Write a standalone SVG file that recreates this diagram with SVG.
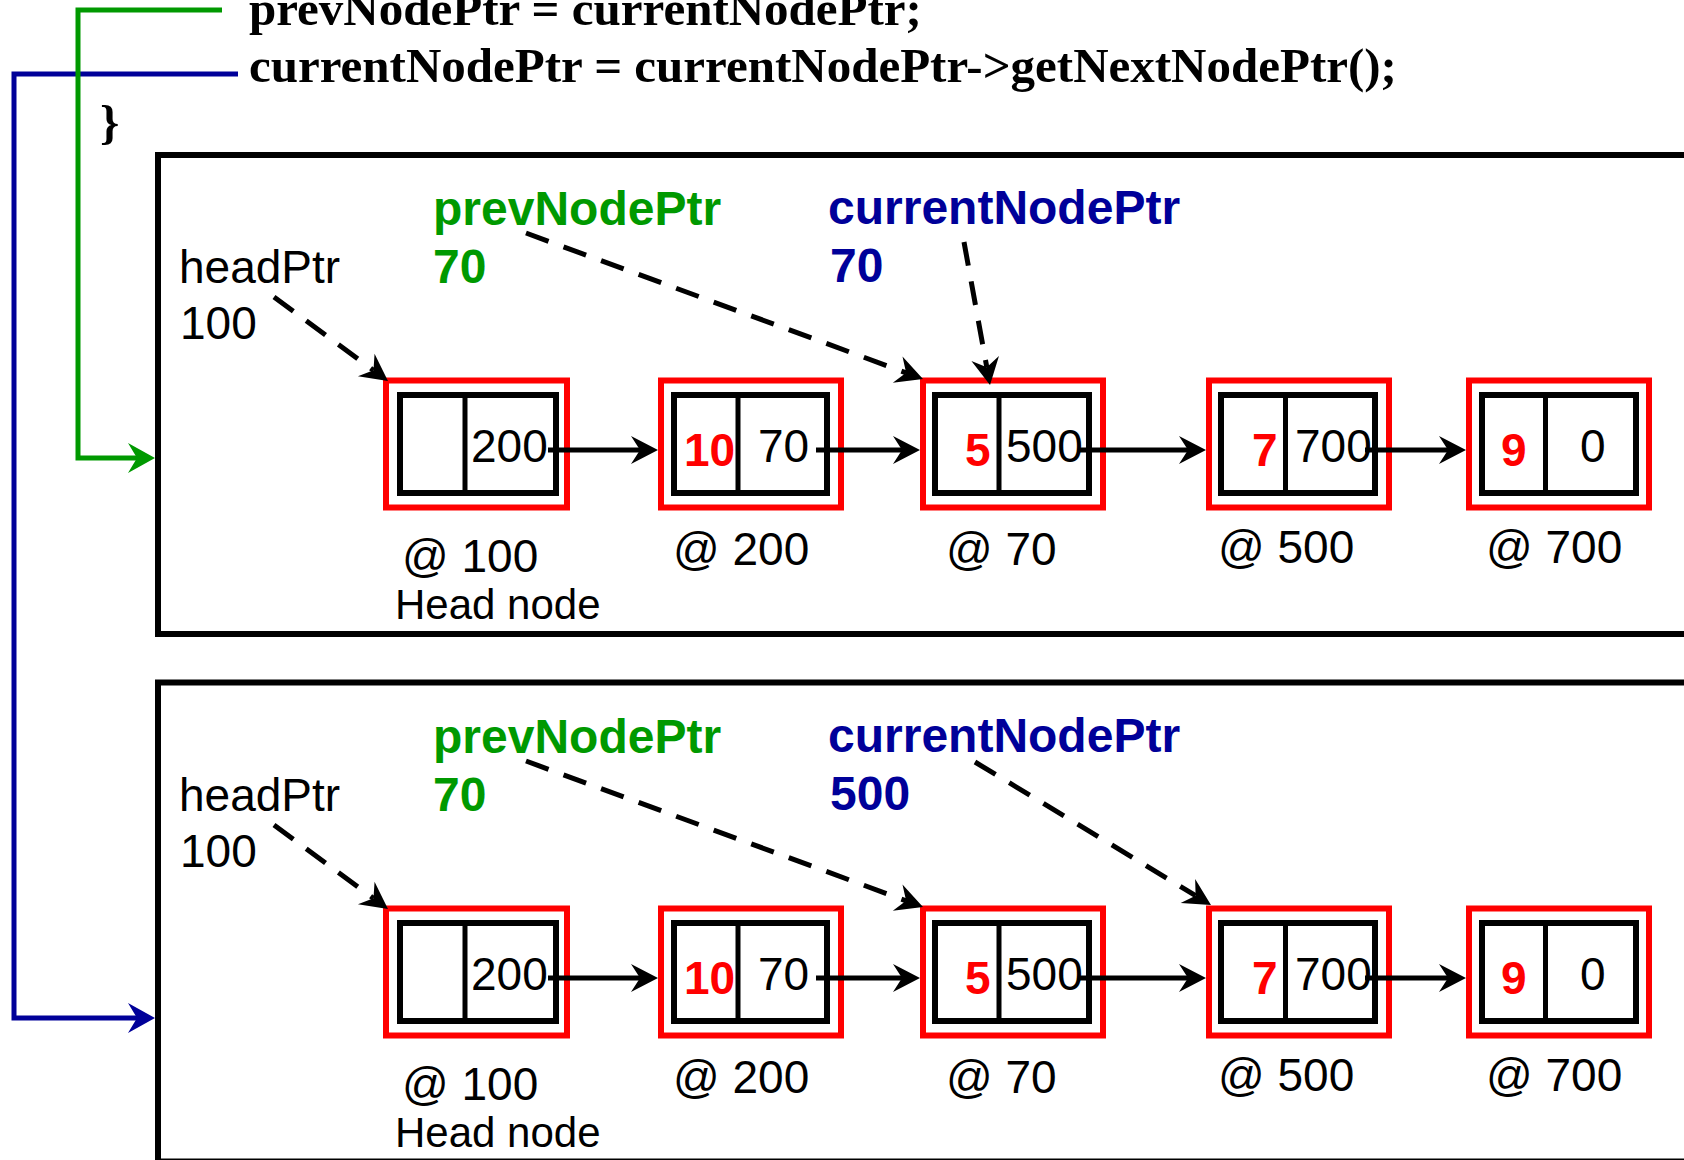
<svg xmlns="http://www.w3.org/2000/svg" width="1684" height="1160" viewBox="0 0 1684 1160">
<style>
.code{font-family:"Liberation Serif","Times New Roman",serif;font-weight:bold;font-size:49px;fill:#000}
.lbl{font-family:"Liberation Sans",Arial,sans-serif;font-size:46px;fill:#000}
.addr{font-family:"Liberation Sans",Arial,sans-serif;font-size:46px;fill:#000}
.hn{font-family:"Liberation Sans",Arial,sans-serif;font-size:42px;fill:#000}
.bg{font-family:"Liberation Sans",Arial,sans-serif;font-weight:bold;font-size:48px;fill:#009900}
.bb{font-family:"Liberation Sans",Arial,sans-serif;font-weight:bold;font-size:48px;fill:#000099}
.val{font-family:"Liberation Sans",Arial,sans-serif;font-size:46px;fill:#000}
.key{font-family:"Liberation Sans",Arial,sans-serif;font-weight:bold;font-size:46px;fill:#ff0000}
.frame{fill:none;stroke:#000;stroke-width:6}
.outer{fill:#fff;stroke:#ff0000;stroke-width:6}
.inner{fill:none;stroke:#000;stroke-width:6}
.div{stroke:#000;stroke-width:5}
.link{fill:none;stroke:#000;stroke-width:5;marker-end:url(#ah)}
.ptr{fill:none;stroke:#000;stroke-width:5;stroke-dasharray:24 16;marker-end:url(#ah)}
.gline{fill:none;stroke:#009900;stroke-width:5;marker-end:url(#ahg)}
.bline{fill:none;stroke:#000099;stroke-width:5;marker-end:url(#ahb)}
</style>
<defs>
<marker id="ah" markerUnits="userSpaceOnUse" viewBox="-10 -15 30 30" markerWidth="30" markerHeight="30" refX="0" refY="0" orient="auto" overflow="visible"><path d="M18,0 L-9,-14 L0,0 L-9,14 Z" fill="#000"/></marker>
<marker id="ahg" markerUnits="userSpaceOnUse" viewBox="-10 -15 30 30" markerWidth="30" markerHeight="30" refX="0" refY="0" orient="auto" overflow="visible"><path d="M18,0 L-9,-15 L0,0 L-9,15 Z" fill="#009900"/></marker>
<marker id="ahb" markerUnits="userSpaceOnUse" viewBox="-10 -15 30 30" markerWidth="30" markerHeight="30" refX="0" refY="0" orient="auto" overflow="visible"><path d="M18,0 L-9,-15 L0,0 L-9,15 Z" fill="#000099"/></marker>
</defs>
<rect width="1684" height="1160" fill="#fff"/>

<g id="code">
<text class="code" x="249" y="25">prevNodePtr = currentNodePtr;</text>
<text class="code" x="249" y="82">currentNodePtr = currentNodePtr-&gt;getNextNodePtr();</text>
<text class="code" x="100" y="139">}</text>
</g>

<g id="frame1"><rect class="frame" x="158" y="155" width="1600" height="479"/></g>
<g id="frame2"><rect class="frame" x="158" y="682.5" width="1600" height="479"/></g>

<!-- Panel 1 labels -->
<g id="p1-headPtr"><text class="lbl" x="179" y="282.5">headPtr</text><text class="lbl" x="180" y="339">100</text></g>
<g id="p1-prevNodePtr"><text class="bg" x="433" y="225">prevNodePtr</text><text class="bg" x="433" y="283">70</text></g>
<g id="p1-currentNodePtr"><text class="bb" x="828" y="224">currentNodePtr</text><text class="bb" x="830" y="282">70</text></g>

<!-- Panel 1 nodes -->
<g id="p1-node100">
<rect class="outer" x="386" y="380.5" width="181" height="127"/>
<rect class="inner" x="400" y="395" width="156" height="98"/>
<line class="div" x1="465" y1="395" x2="465" y2="493"/>
<text class="val" x="471" y="462">200</text>
<text class="addr" x="402" y="572">@ 100</text>
<text class="hn" x="395" y="619">Head node</text>
</g>
<g id="p1-node200">
<rect class="outer" x="661" y="380.5" width="180" height="127"/>
<rect class="inner" x="674" y="395" width="153" height="98"/>
<line class="div" x1="738" y1="395" x2="738" y2="493"/>
<text class="key" x="684" y="466">10</text>
<text class="val" x="758" y="462">70</text>
<text class="addr" x="673" y="565">@ 200</text>
</g>
<g id="p1-node70">
<rect class="outer" x="923" y="380.5" width="180" height="127"/>
<rect class="inner" x="935" y="395" width="154" height="98"/>
<line class="div" x1="999" y1="395" x2="999" y2="493"/>
<text class="key" x="965" y="466">5</text>
<text class="val" x="1006" y="462">500</text>
<text class="addr" x="946" y="565">@ 70</text>
</g>
<g id="p1-node500">
<rect class="outer" x="1209" y="380.5" width="180" height="127"/>
<rect class="inner" x="1221" y="395" width="154" height="98"/>
<line class="div" x1="1285.5" y1="395" x2="1285.5" y2="493"/>
<text class="key" x="1252" y="466">7</text>
<text class="val" x="1295" y="462">700</text>
<text class="addr" x="1218" y="563">@ 500</text>
</g>
<g id="p1-node700">
<rect class="outer" x="1469" y="380.5" width="180" height="127"/>
<rect class="inner" x="1482" y="395" width="154" height="98"/>
<line class="div" x1="1545.5" y1="395" x2="1545.5" y2="493"/>
<text class="key" x="1501" y="466">9</text>
<text class="val" x="1580" y="462">0</text>
<text class="addr" x="1486" y="563">@ 700</text>
</g>

<!-- Panel 2 labels -->
<g id="p2-headPtr"><text class="lbl" x="179" y="810.5">headPtr</text><text class="lbl" x="180" y="867">100</text></g>
<g id="p2-prevNodePtr"><text class="bg" x="433" y="753">prevNodePtr</text><text class="bg" x="433" y="811">70</text></g>
<g id="p2-currentNodePtr"><text class="bb" x="828" y="752">currentNodePtr</text><text class="bb" x="830" y="810">500</text></g>

<!-- Panel 2 nodes -->
<g id="p2-node100">
<rect class="outer" x="386" y="908.5" width="181" height="127"/>
<rect class="inner" x="400" y="923" width="156" height="98"/>
<line class="div" x1="465" y1="923" x2="465" y2="1021"/>
<text class="val" x="471" y="990">200</text>
<text class="addr" x="402" y="1100">@ 100</text>
<text class="hn" x="395" y="1147">Head node</text>
</g>
<g id="p2-node200">
<rect class="outer" x="661" y="908.5" width="180" height="127"/>
<rect class="inner" x="674" y="923" width="153" height="98"/>
<line class="div" x1="738" y1="923" x2="738" y2="1021"/>
<text class="key" x="684" y="994">10</text>
<text class="val" x="758" y="990">70</text>
<text class="addr" x="673" y="1093">@ 200</text>
</g>
<g id="p2-node70">
<rect class="outer" x="923" y="908.5" width="180" height="127"/>
<rect class="inner" x="935" y="923" width="154" height="98"/>
<line class="div" x1="999" y1="923" x2="999" y2="1021"/>
<text class="key" x="965" y="994">5</text>
<text class="val" x="1006" y="990">500</text>
<text class="addr" x="946" y="1093">@ 70</text>
</g>
<g id="p2-node500">
<rect class="outer" x="1209" y="908.5" width="180" height="127"/>
<rect class="inner" x="1221" y="923" width="154" height="98"/>
<line class="div" x1="1285.5" y1="923" x2="1285.5" y2="1021"/>
<text class="key" x="1252" y="994">7</text>
<text class="val" x="1295" y="990">700</text>
<text class="addr" x="1218" y="1091">@ 500</text>
</g>
<g id="p2-node700">
<rect class="outer" x="1469" y="908.5" width="180" height="127"/>
<rect class="inner" x="1482" y="923" width="154" height="98"/>
<line class="div" x1="1545.5" y1="923" x2="1545.5" y2="1021"/>
<text class="key" x="1501" y="994">9</text>
<text class="val" x="1580" y="990">0</text>
<text class="addr" x="1486" y="1091">@ 700</text>
</g>

<g id="connectors">
<!-- code to panels -->
<path class="bline" d="M238,74 H14 V1018 H137"/>
<path class="gline" d="M222,10 H78 V458 H137"/>
<!-- panel 1 links -->
<path class="link" d="M548,450 H640"/>
<path class="link" d="M816,450 H902"/>
<path class="link" d="M1079,450 H1188"/>
<path class="link" d="M1365,450 H1448"/>
<path class="ptr" d="M274,297 L373.5,370.3"/>
<path class="ptr" d="M526,233 L906.1,372.8"/>
<path class="ptr" d="M964,242 L986.8,367.3"/>
<!-- panel 2 links -->
<path class="link" d="M548,978 H640"/>
<path class="link" d="M816,978 H902"/>
<path class="link" d="M1079,978 H1188"/>
<path class="link" d="M1365,978 H1448"/>
<path class="ptr" d="M274,825 L373.5,898.3"/>
<path class="ptr" d="M526,761 L906.1,900.8"/>
<path class="ptr" d="M975,762 L1195.6,895.7"/>
</g>
</svg>
